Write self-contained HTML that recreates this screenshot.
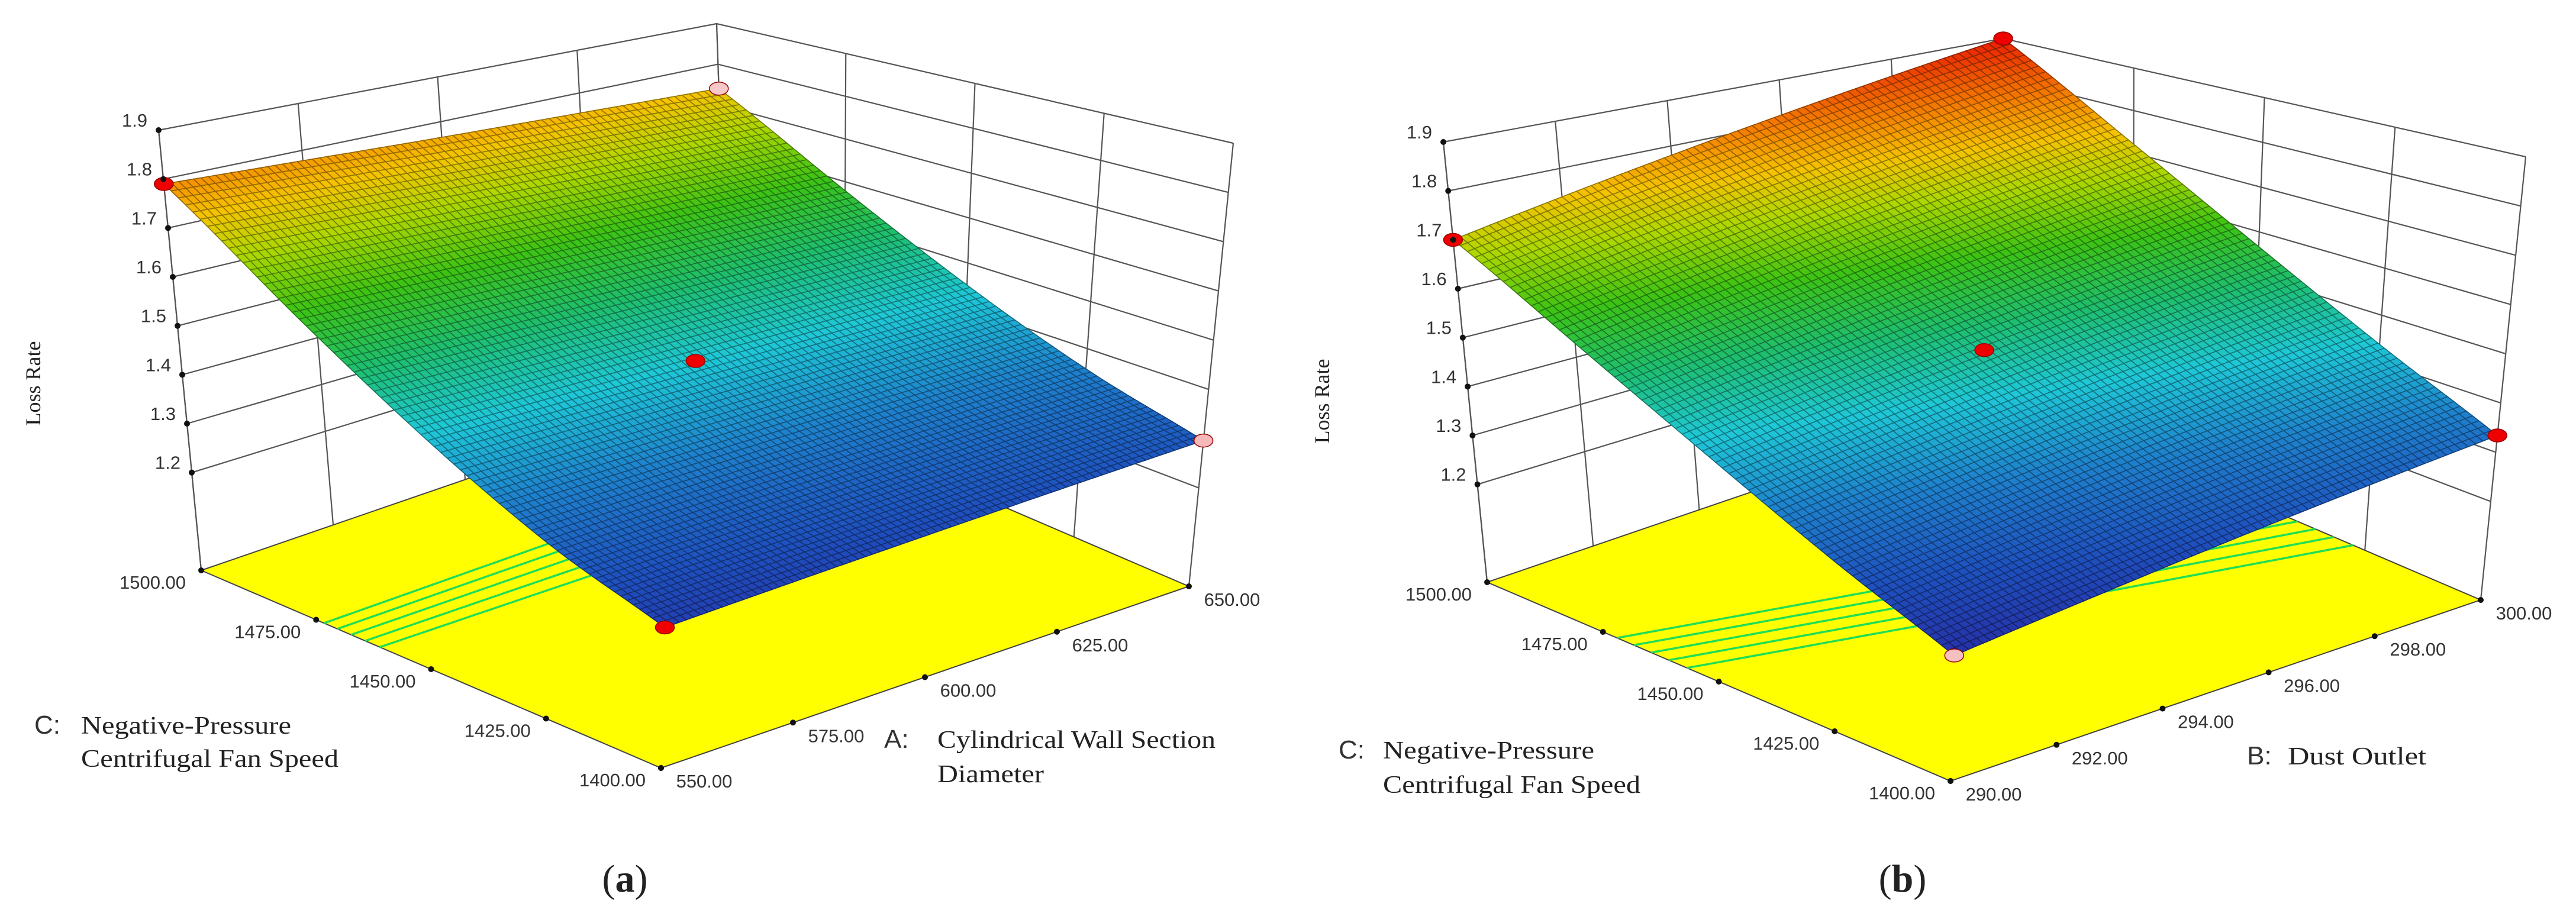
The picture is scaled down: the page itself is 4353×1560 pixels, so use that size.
<!DOCTYPE html>
<html><head><meta charset="utf-8">
<style>
html,body{margin:0;padding:0;background:#fff;}
svg{display:block;}
.tk{font-family:"Liberation Sans",Arial,sans-serif;font-size:31px;fill:#333;}
.ttl{font-family:"Liberation Serif","Times New Roman",serif;fill:#222;}
</style></head>
<body>
<svg id="fig" xmlns="http://www.w3.org/2000/svg" width="4353" height="1560" viewBox="0 0 4353 1560">
<rect width="4353" height="1560" fill="#fff"/>
<g id="pa"></g>
<g id="pb"></g>
<text class="ttl" font-size="36" text-anchor="middle" transform="translate(68,648) rotate(-90)">Loss Rate</text>
<text class="ttl" font-size="36" text-anchor="middle" transform="translate(2246,678) rotate(-90)">Loss Rate</text>
<g>
<text x="58" y="1240" font-family="Liberation Sans, sans-serif" font-size="44" fill="#333">C:</text>
<text class="ttl" x="137" y="1240" font-size="42" textLength="355" lengthAdjust="spacingAndGlyphs">Negative-Pressure</text>
<text class="ttl" x="137" y="1296" font-size="42" textLength="435" lengthAdjust="spacingAndGlyphs">Centrifugal Fan Speed</text>
</g>
<g>
<text x="1494" y="1264" font-family="Liberation Sans, sans-serif" font-size="44" fill="#333">A:</text>
<text class="ttl" x="1584" y="1264" font-size="42" textLength="470" lengthAdjust="spacingAndGlyphs">Cylindrical Wall Section</text>
<text class="ttl" x="1584" y="1322" font-size="42" textLength="180" lengthAdjust="spacingAndGlyphs">Diameter</text>
</g>
<g>
<text x="2262" y="1282" font-family="Liberation Sans, sans-serif" font-size="44" fill="#333">C:</text>
<text class="ttl" x="2337" y="1282" font-size="42" textLength="357" lengthAdjust="spacingAndGlyphs">Negative-Pressure</text>
<text class="ttl" x="2337" y="1340" font-size="42" textLength="435" lengthAdjust="spacingAndGlyphs">Centrifugal Fan Speed</text>
</g>
<g>
<text x="3797" y="1292" font-family="Liberation Sans, sans-serif" font-size="44" fill="#333">B:</text>
<text class="ttl" x="3866" y="1292" font-size="42" textLength="234" lengthAdjust="spacingAndGlyphs">Dust Outlet</text>
</g>
<text class="ttl" font-size="66" fill="#000" x="1056" y="1507" text-anchor="middle">(<tspan font-weight="bold">a</tspan>)</text>
<text class="ttl" font-size="66" fill="#000" x="3215" y="1507" text-anchor="middle">(<tspan font-weight="bold">b</tspan>)</text>
</svg>
<script>
// ---- data ----
const zTicks = [1.2, 1.3, 1.4, 1.5, 1.6, 1.7, 1.8, 1.9];
const cTicks = [1400, 1425, 1450, 1475, 1500];
const aTicks = [550, 575, 600, 625, 650];
const bTicks = [290, 292, 294, 296, 298, 300];
// loss rate, rows = C (1400..1500), cols = A (550..650)
const lossA = [
  [1.244, 1.257, 1.270, 1.283, 1.296],
  [1.319, 1.329, 1.338, 1.348, 1.357],
  [1.435, 1.439, 1.443, 1.447, 1.451],
  [1.592, 1.589, 1.586, 1.582, 1.579],
  [1.790, 1.778, 1.765, 1.753, 1.740]
];
// loss rate, rows = C (1400..1500), cols = B (290..300)
const lossB = [
  [1.217, 1.246, 1.276, 1.305, 1.334],
  [1.305, 1.338, 1.372, 1.405, 1.438],
  [1.416, 1.453, 1.491, 1.529, 1.567],
  [1.547, 1.590, 1.634, 1.677, 1.721],
  [1.700, 1.750, 1.800, 1.850, 1.900]
];
const contoursA = [1.50, 1.52, 1.54, 1.56, 1.58];
const contoursB = [1.45, 1.47, 1.49, 1.51, 1.53];
const ptColorsA = {L:'#ee0000', F:'#ee0000', C:'#ee0000', R:'#f6b8b8', B:'#f6c8c8'};
const ptColorsB = {L:'#ee0000', B:'#ee0000', C:'#ee0000', R:'#ee0000', F:'#f6c0c0'};

const NS = 'http://www.w3.org/2000/svg';
function mk(tag, attrs, parent){
  const e = document.createElementNS(NS, tag);
  for (const k in attrs) e.setAttribute(k, attrs[k]);
  parent.appendChild(e);
  return e;
}
const ZMIN = 1.0, ZMAX = 1.9;

function makeProj(g){
  function bil(P, u, v){
    const x = (1-u)*(1-v)*P.F[0] + u*(1-v)*P.R[0] + u*v*P.B[0] + (1-u)*v*P.L[0];
    const y = (1-u)*(1-v)*P.F[1] + u*(1-v)*P.R[1] + u*v*P.B[1] + (1-u)*v*P.L[1];
    return [x, y];
  }
  return function(u, v, z){
    const f = bil(g.floor, u, v), t = bil(g.top, u, v);
    const s = (z - ZMIN) / (ZMAX - ZMIN);
    return [f[0] + s*(t[0]-f[0]), f[1] + s*(t[1]-f[1])];
  };
}
// Catmull-Rom interpolation on 1D array
function cr1(arr, t){
  const n = arr.length - 1;
  let f = t*n, i = Math.min(Math.floor(f), n-1);
  const s = f - i;
  const p0 = arr[Math.max(i-1,0)], p1 = arr[i], p2 = arr[i+1], p3 = arr[Math.min(i+2,n)];
  const e0 = i-1 < 0 ? 2*p1 - p2 : p0;
  const e3 = i+2 > n ? 2*p2 - p1 : p3;
  return 0.5*((2*p1) + (-e0+p2)*s + (2*e0-5*p1+4*p2-e3)*s*s + (-e0+3*p1-3*p2+e3)*s*s*s);
}
function sample(grid, u, v){
  const col = grid.map(row => cr1(row, u));
  return cr1(col, v);
}
const stops = [[1.2,[40,40,160]],[1.28,[30,80,190]],[1.36,[30,130,205]],[1.44,[30,200,215]],[1.52,[30,190,110]],[1.6,[60,195,20]],[1.68,[175,215,0]],[1.74,[245,195,0]],[1.80,[245,130,0]],[1.9,[232,30,0]]];
function cmap(z, k){
  let c = stops[0][1];
  if (z >= stops[stops.length-1][0]) c = stops[stops.length-1][1];
  else for (let i = 0; i < stops.length-1; i++){
    if (z >= stops[i][0] && z <= stops[i+1][0]){
      const t = (z - stops[i][0]) / (stops[i+1][0] - stops[i][0]);
      c = stops[i][1].map((a, q) => a + t*(stops[i+1][1][q]-a));
      break;
    }
  }
  return 'rgb(' + c.map(a => Math.round(a*k)).join(',') + ')';
}
const P = p => p[0].toFixed(1) + ',' + p[1].toFixed(1);

function drawPanel(root, g, grid, uTicks, contours, ptc){
  const pr = makeProj(g);
  const wall = {stroke:'#555', 'stroke-width':2.2, fill:'none'};
  const walls = mk('g', {}, root);
  
  
  zTicks.forEach(z => {
    const l = mk('polyline', Object.assign({points: P(pr(0,1,z)) + ' ' + P(pr(1,1,z)) + ' ' + P(pr(1,0,z))}, wall), walls);
    
    
  });
  uTicks.forEach((t, i) => {
    const u = i/(uTicks.length-1);
    const l = mk('line', Object.assign({x1:pr(u,1,ZMIN)[0], y1:pr(u,1,ZMIN)[1], x2:pr(u,1,ZMAX)[0], y2:pr(u,1,ZMAX)[1]}, wall), walls);
    
    
  });
  cTicks.forEach((t, i) => {
    const v = i/(cTicks.length-1);
    const l = mk('line', Object.assign({x1:pr(1,v,ZMIN)[0], y1:pr(1,v,ZMIN)[1], x2:pr(1,v,ZMAX)[0], y2:pr(1,v,ZMAX)[1]}, wall), walls);
    
    
  });
  const zax = mk('line', Object.assign({x1:pr(0,1,ZMIN)[0], y1:pr(0,1,ZMIN)[1], x2:pr(0,1,ZMAX)[0], y2:pr(0,1,ZMAX)[1]}, wall), walls);
  
  
  const fl = mk('polygon', {points:[pr(0,0,ZMIN),pr(1,0,ZMIN),pr(1,1,ZMIN),pr(0,1,ZMIN)].map(P).join(' '), fill:'#ffff00', stroke:'#444', 'stroke-width':2}, root);
  
  
  contours.forEach(lv => {
    const pts = [];
    for (let k = 0; k <= 100; k++){
      const u = k/100;
      for (let s = 0; s < 400; s++){
        const v0 = s/400, v1 = (s+1)/400;
        const z0 = sample(grid, u, v0), z1 = sample(grid, u, v1);
        if ((z0-lv)*(z1-lv) <= 0 && z0 !== z1){
          pts.push(pr(u, v0 + (lv-z0)/(z1-z0)*(v1-v0), ZMIN));
          break;
        }
      }
    }
    const c = mk('polyline', {points: pts.map(P).join(' '), fill:'none', stroke:'#22dd55', 'stroke-width':3.5}, root);
    
    
  });
  const surf = mk('g', {}, root);
  
  
  const N = 75;
  const Z = [];
  for (let i = 0; i <= N; i++){ Z.push([]); for (let j = 0; j <= N; j++) Z[i].push(sample(grid, j/N, i/N)); }
  const cells = [];
  for (let i = 0; i < N; i++) for (let j = 0; j < N; j++) cells.push([i, j]);
  cells.sort((a, b) => (b[0]+b[1]) - (a[0]+a[1]));
  cells.forEach(([i, j]) => {
    const u0 = j/N, u1 = (j+1)/N, v0 = i/N, v1 = (i+1)/N;
    const za = Z[i][j], zb = Z[i][j+1], zc = Z[i+1][j+1], zd = Z[i+1][j];
    const zm = (za+zb+zc+zd)/4;
    const q = mk('polygon', {points:[pr(u0,v0,za),pr(u1,v0,zb),pr(u1,v1,zc),pr(u0,v1,zd)].map(P).join(' '), fill:cmap(zm,1), stroke:cmap(zm,0.6), 'stroke-width':1.6, 'stroke-linejoin':'round'}, surf);
    
    
  });
  const dp = {L:[0,1], F:[0,0], R:[1,0], B:[1,1], C:[0.5,0.5]};
  Object.keys(ptc).forEach(k => {
    const [u, v] = dp[k];
    const p = pr(u, v, sample(grid, u, v));
    const e = mk('ellipse', {cx:p[0], cy:p[1], rx:16, ry:11, fill:ptc[k], stroke:'#900', 'stroke-width':1.5}, root);
    
    
  });
  zTicks.forEach(z => {
    const p = pr(0,1,z);
    const d = mk('circle', {cx:p[0], cy:p[1], r:5, fill:'#111'}, root);
    
    
    const t = mk('text', {x:p[0]-19, y:p[1]-6, 'text-anchor':'end', class:'tk'}, root);
    t.textContent = z.toFixed(1);
    
    
  });
  cTicks.forEach((c, i) => {
    const p = pr(0, i/(cTicks.length-1), ZMIN);
    const d = mk('circle', {cx:p[0], cy:p[1], r:5, fill:'#111'}, root);
    
    
    const t = mk('text', {x:p[0]-82, y:p[1]+31, 'text-anchor':'middle', class:'tk'}, root);
    t.textContent = c.toFixed(2);
    
    
  });
  uTicks.forEach((c, i) => {
    const p = pr(i/(uTicks.length-1), 0, ZMIN);
    const d = mk('circle', {cx:p[0], cy:p[1], r:5, fill:'#111'}, root);
    
    
    const t = mk('text', {x:p[0]+73, y:p[1]+33, 'text-anchor':'middle', class:'tk'}, root);
    t.textContent = c.toFixed(2);
    
    
  });
}
const geomA = {floor:{F:[1117,1298], R:[2009,991], B:[1232,657], L:[340,964]},
               top:{F:[1141,422], R:[2084,242], B:[1211,40], L:[268,220]}};
const geomB = {floor:{F:[3296,1320], R:[4192,1014], B:[3409,678], L:[2513,984]},
               top:{F:[3322,440], R:[4268,265], B:[3385,65], L:[2439,240]}};
drawPanel(document.getElementById('pa'), geomA, lossA, aTicks, contoursA, ptColorsA);
drawPanel(document.getElementById('pb'), geomB, lossB, bTicks, contoursB, ptColorsB);
</script>
</body></html>
